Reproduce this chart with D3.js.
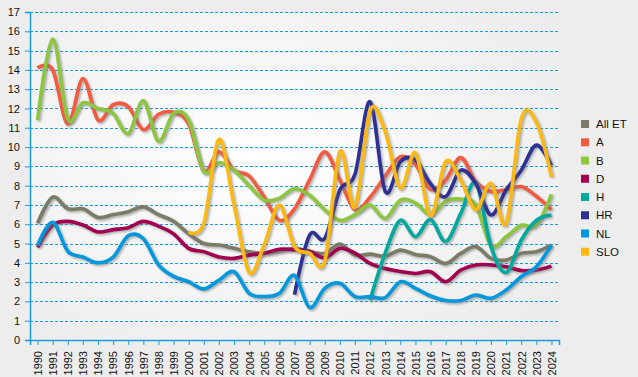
<!DOCTYPE html>
<html><head><meta charset="utf-8">
<script src="https://cdn.jsdelivr.net/npm/d3@7"></script>
<style>
html,body{margin:0;padding:0;background:#ededed;}
svg{display:block;font-family:"Liberation Sans",Arial,sans-serif;}
</style></head>
<body>
<svg id="chart" width="638" height="377"></svg>
<script>
const years = d3.range(1990, 2025).map(String);
const yTicks = d3.range(0, 18);
const seriesNames = ["All ET","A","B","D","H","HR","NL","SLO"];
const seriesColors = ["#7b7b68","#f35b40","#8cc63f","#a0004f","#00a99d","#2e3192","#0098dd","#fdb913"];

const allET = [6.05,7.4,6.8,6.8,6.35,6.5,6.65,6.9,6.5,6.15,5.5,5.0,4.92,4.75,4.57,4.5,4.6,4.75,4.58,4.49,4.97,4.4,4.45,4.35,4.66,4.43,4.32,3.97,4.49,4.84,4.23,4.15,4.49,4.58,4.92];
const A = [14.1,14.0,11.2,13.55,11.4,12.2,12.1,10.9,11.7,11.8,11.2,8.75,9.75,8.8,8.5,7.4,6.2,6.8,8.3,9.75,8.3,6.75,7.4,8.5,9.5,9.1,7.8,8.3,9.45,8.2,7.7,7.8,7.95,7.45,6.75];
const B = [11.4,15.6,11.45,12.3,12.0,11.75,10.7,12.4,10.3,11.75,11.4,8.75,9.2,8.8,8.0,7.25,7.35,7.85,7.5,6.75,6.2,6.5,7.0,6.3,7.25,7.1,6.5,7.2,7.3,7.0,4.9,5.35,5.95,5.95,7.55];
const D = [4.8,5.95,6.15,5.96,5.6,5.72,5.82,6.15,5.9,5.5,4.75,4.58,4.3,4.23,4.4,4.5,4.7,4.68,4.6,4.25,4.75,4.5,3.97,3.7,3.55,3.45,3.54,3.02,3.63,3.89,3.89,3.8,3.6,3.63,3.83];
const H = [null,null,null,null,null,null,null,null,null,null,null,null,null,null,null,null,null,null,null,null,null,null,2.07,4.5,6.2,5.35,6.25,5.1,6.56,8.15,4.84,3.5,5.18,6.2,6.48];
const HR = [null,null,null,null,null,null,null,null,null,null,null,null,null,null,null,null,null,2.35,5.44,5.27,7.77,8.6,12.35,7.7,9.24,9.33,8.1,7.43,8.8,8.1,6.48,7.77,8.8,10.1,9.05];
const NL = [4.9,6.1,4.6,4.3,4.0,4.3,5.4,5.25,3.9,3.3,3.02,2.65,3.1,3.54,2.42,2.25,2.42,3.35,1.68,2.68,2.94,2.25,2.25,2.2,3.02,2.68,2.28,2.05,2.05,2.33,2.16,2.59,3.28,3.8,4.92];
const SLO = [null,null,null,null,null,null,null,null,null,null,5.6,6.05,10.4,7.0,3.5,4.95,7.0,4.85,4.5,4.1,9.76,6.9,11.9,10.8,7.87,9.7,6.45,9.24,8.3,6.75,8.12,6.04,11.45,11.3,8.46];
const seriesValues = [allET, A, B, D, H, HR, NL, SLO];

const svg = d3.select("#chart");
const W = 638, H0 = 377;
const plot = {left: 30, top: 12, right: 559, bottom: 340};

const defs = svg.append("defs");
const grad = defs.append("radialGradient").attr("id","bg")
  .attr("cx","0.42").attr("cy","0.45").attr("r","0.75");
grad.append("stop").attr("offset","0").attr("stop-color","#ffffff");
grad.append("stop").attr("offset","1").attr("stop-color","#ebebeb");
const blur = defs.append("filter").attr("id","sh").attr("x","-5%").attr("y","-5%").attr("width","110%").attr("height","110%");
blur.append("feGaussianBlur").attr("stdDeviation","0.8");

svg.append("rect").attr("width",W).attr("height",H0).attr("fill","#ededed");
svg.append("rect").attr("x",plot.left).attr("y",plot.top)
  .attr("width",plot.right-plot.left).attr("height",plot.bottom-plot.top).attr("fill","url(#bg)");

const x = d3.scalePoint().domain(years).range([plot.left, plot.right]).padding(0.5);
const y = d3.scaleLinear().domain([0,17]).range([plot.bottom, plot.top]);

// gridlines
svg.append("g").selectAll("line").data(yTicks.filter(d=>d>0)).join("line")
  .attr("x1",plot.left).attr("x2",plot.right)
  .attr("y1",d=>Math.round(y(d))+0.5).attr("y2",d=>Math.round(y(d))+0.5)
  .attr("stroke","#1a9be0").attr("stroke-width",1).attr("stroke-dasharray","3,2");

// axes
const yAxis = d3.axisLeft(y).tickValues(yTicks).tickSize(5).tickPadding(5);
const gy = svg.append("g").attr("transform",`translate(${plot.left},0)`).call(yAxis);
gy.select(".domain").attr("stroke","#1a9be0").attr("stroke-width",1.5);
gy.selectAll(".tick line").attr("stroke","#1a9be0");
gy.selectAll("text").attr("font-size",11).attr("fill","#111").attr("font-family","Liberation Sans, Arial, sans-serif");

const xAxis = d3.axisBottom(x).tickSize(5).tickPadding(4);
const gx = svg.append("g").attr("transform",`translate(0,${plot.bottom})`).call(xAxis);
gx.select(".domain").attr("stroke","#1a9be0").attr("stroke-width",1.5);
gx.selectAll(".tick line").attr("stroke","#1a9be0");
gx.selectAll("text").attr("font-size",11).attr("fill","#111").attr("font-family","Liberation Sans, Arial, sans-serif")
  .attr("transform","rotate(-90)").attr("text-anchor","end").attr("dy","0.35em").attr("x",-11).attr("y",0);

// lines
const line = d3.line().defined(d=>d.v!=null).x(d=>x(d.year)).y(d=>y(d.v)).curve(d3.curveCardinal);
const lines = svg.append("g");
seriesNames.forEach((name,i)=>{
  const data = years.map((yr,j)=>({year:yr, v:seriesValues[i][j]}));
  lines.append("path").attr("d",line(data)).attr("fill","none")
    .attr("stroke","#777").attr("stroke-opacity",0.55).attr("stroke-width",4)
    .attr("stroke-linejoin","round").attr("filter","url(#sh)")
    .attr("transform","translate(1.5,1.5)");
  lines.append("path").attr("d",line(data)).attr("fill","none")
    .attr("stroke",seriesColors[i]).attr("stroke-width",3.6)
    .attr("stroke-linejoin","round").attr("stroke-linecap","butt");
});

// legend
const leg = svg.append("g");
seriesNames.forEach((name,i)=>{
  const cy = 124 + i*18.25;
  leg.append("rect").attr("x",581).attr("y",cy-4).attr("width",8).attr("height",8).attr("fill",seriesColors[i]);
  leg.append("text").attr("x",596).attr("y",cy).attr("dy","0.35em").attr("font-size",11.5).attr("fill","#111").text(name);
});
</script>
</body></html>
